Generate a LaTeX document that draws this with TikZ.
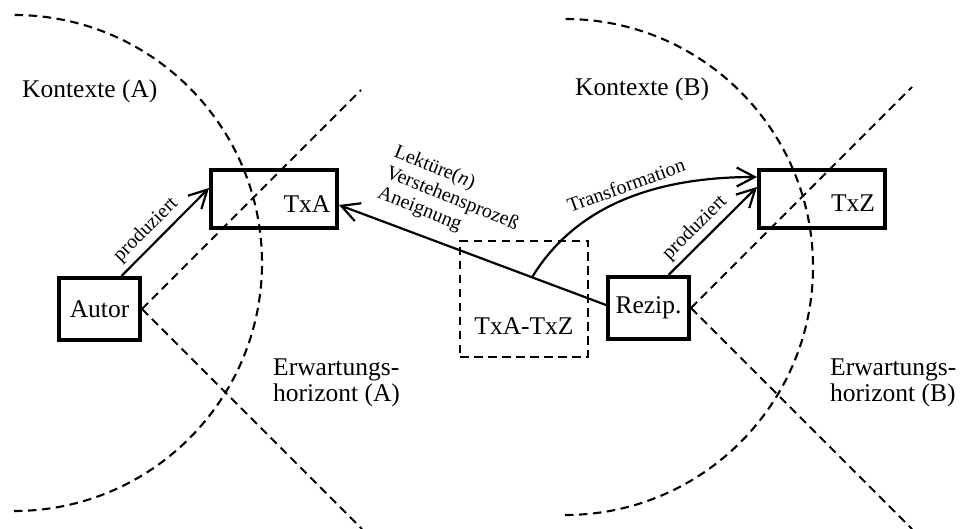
\documentclass[tikz,border=0pt]{standalone}
\usepackage{fontspec}
\setmainfont{Liberation Serif}
\usetikzlibrary{arrows.meta,calc}
\begin{document}
\begin{tikzpicture}[x=1pt,y=-1pt,
  box/.style={draw,line width=4pt,inner sep=0pt},
  dline/.style={line width=2.1pt,dash pattern=on 8.5pt off 5.5pt},
  arr/.style={line width=2.2pt,-{Straight Barb[length=18pt,width=19pt,line width=2.2pt]}},
  big/.style={font=\fontsize{25.5}{26}\selectfont,inner sep=0pt},
  small/.style={font=\fontsize{20}{22}\selectfont,inner sep=0pt}]
\useasboundingbox (0,0) rectangle (962,529);

% context circles
\draw[dline] (14,511) arc[start angle=90,end angle=-90,radius=248];
\draw[dline] (565,515) arc[start angle=90,end angle=-90,radius=248];

% boxes
\node[box,minimum width=126pt,minimum height=58pt] (txa) at (274,199) {};
\node[box,minimum width=126pt,minimum height=58pt] (txz) at (822,199) {};
\node[box,big,minimum width=81pt,minimum height=62pt] (autor) at (99.5,309) {Autor};
\node[box,big,minimum width=81pt,minimum height=62pt] (rezip) at (648.5,308) {Rezip.};
\node[draw,line width=2.1pt,dash pattern=on 8.5pt off 5.5pt,minimum width=128pt,minimum height=116pt,inner sep=0pt] (dbox) at (524,299) {};

\node[big] (txat) at (307,204) {TxA};
\node[big] (txzt) at (853,203) {TxZ};
\node[big] (dboxt) at (524,326) {TxA-TxZ};

% horizon lines
\coordinate (a1) at (361,90);
\coordinate (a2) at (362,529);
\coordinate (b1) at (912,87);
\coordinate (b2) at (912,529);
\draw[dline] (autor.east) -- (a1);
\draw[dline] (autor.east) -- (a2);
\draw[dline] (rezip.east) -- (b1);
\draw[dline] (rezip.east) -- (b2);

% arrows
\coordinate (rA) at ([yshift=3pt]rezip.west);
\coordinate (tA) at ([yshift=-6pt]txa.east);
\draw[arr] (rA) -- (tA);
\coordinate (ts) at ($(rA)!0.277!(tA)$);
\draw[arr] (ts) .. controls (570,215) and (640,177) .. ([yshift=22pt]txz.west);
\draw[arr] ([xshift=22pt]autor.north) -- ([yshift=11pt]txa.west);
\draw[arr] ([xshift=20pt]rezip.north) -- ([yshift=12pt]txz.west);

% labels
\node[small,rotate=45] (prodA) at (146,230) {produziert};
\node[small,rotate=45] (prodB) at (695,228) {produziert};
\node[small,rotate=20] (trans) at (626,185) {Transformation};
\node[small,rotate=-22,align=left] (lekt) at (452,199) {Lektüre(\textit{n})\\Verstehensprozeß\\Aneignung};

\node[big,anchor=west] (kA) at (22,91) {Kontexte (A)};
\node[big,anchor=west] (kB) at (575,89) {Kontexte (B)};
\node[big,anchor=west,align=left] (eA) at (273,383) {Erwartungs-\\horizont (A)};
\node[big,anchor=west,align=left] (eB) at (830,383) {Erwartungs-\\horizont (B)};
\end{tikzpicture}
\end{document}
